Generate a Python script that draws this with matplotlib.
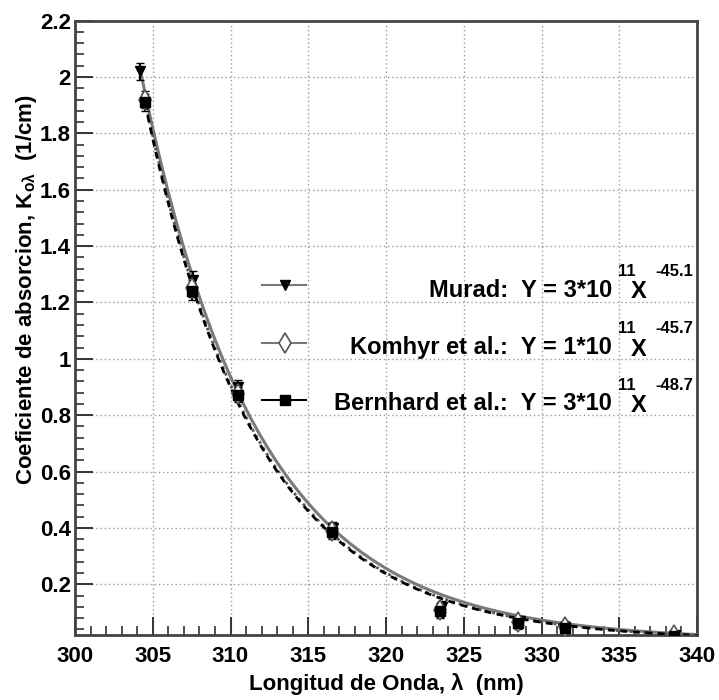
import numpy as np
import matplotlib
matplotlib.use("Agg")
import matplotlib.pyplot as plt
from matplotlib.lines import Line2D
from matplotlib.ticker import MultipleLocator, FixedLocator

W, H = 719, 700
plt.rcParams['font.family'] = ['Liberation Sans', 'DejaVu Sans']
plt.rcParams['font.weight'] = 'bold'
plt.rcParams['mathtext.fontset'] = 'custom'
plt.rcParams['mathtext.rm'] = 'Liberation Sans:bold'
plt.rcParams['mathtext.it'] = 'Liberation Sans:bold'
plt.rcParams['mathtext.bf'] = 'Liberation Sans:bold'

# ---------------- data ----------------
murad_x = [304.2, 307.6, 310.5, 316.6, 323.6, 328.6, 331.5, 338.6]
murad_y = [2.02, 1.28, 0.90, 0.40, 0.12, 0.07, 0.05, 0.02]
murad_err = [0.03, 0.03, 0.025, 0.02, 0.02, 0.015, 0.012, 0.008]

komhyr_x = [304.5, 307.5, 310.5, 316.5, 323.5, 328.5, 331.5, 338.5]
komhyr_y = [1.92, 1.25, 0.875, 0.39, 0.11, 0.066, 0.048, 0.019]
komhyr_err = [0.03, 0.03, 0.025, 0.025, 0.025, 0.02, 0.02, 0.008]

bernhard_x = [304.5, 307.5, 310.5, 316.5, 323.5, 328.5, 331.5, 338.5]
bernhard_y = [1.91, 1.24, 0.87, 0.385, 0.105, 0.062, 0.046, 0.018]
bernhard_err = [0.03, 0.03, 0.025, 0.025, 0.025, 0.02, 0.02, 0.008]

series_names = ['Murad:', 'Komhyr et al.:', 'Bernhard et al.:']
fit_amp = ['3', '1', '3']
fit_pow10 = ['11', '11', '11']
fit_exp = ['-45.1', '-45.7', '-48.7']

x_ticks = [300, 305, 310, 315, 320, 325, 330, 335, 340]
y_ticks = [0.2, 0.4, 0.6, 0.8, 1.0, 1.2, 1.4, 1.6, 1.8, 2.0, 2.2]
y_tick_labels = ['0.2', '0.4', '0.6', '0.8', '1', '1.2', '1.4', '1.6', '1.8', '2', '2.2']

x_title = 'Longitud de Onda, λ  (nm)'
y_title = r'Coeficiente de absorcion, K$_{\mathrm{o\lambda}}$  (1/cm)'

# ---------------- figure ----------------
fig = plt.figure(figsize=(W / 100, H / 100), dpi=100)
L, R, T, B = 75, 697, 20.6, 635
ax = fig.add_axes([L / W, 1 - B / H, (R - L) / W, (B - T) / H])
ax.set_xlim(300, 340)
ax.set_ylim(0.02, 2.2)


def fp(x, y):
    return x / W, 1 - y / H


series = [
    (murad_x, murad_y, murad_err, dict(marker='v', mfc='black', mec='black', ms=7),
     dict(color='#7a7a7a', lw=2.2, ls='-')),
    (komhyr_x, komhyr_y, komhyr_err, dict(marker='d', mfc='white', mec='#555555', ms=10, mew=1.2),
     dict(color='#555555', lw=2.0, ls=(0, (1, 1.5)))),
    (bernhard_x, bernhard_y, bernhard_err, dict(marker='s', mfc='black', mec='black', ms=7),
     dict(color='black', lw=2.0, ls=(0, (2.5, 2)))),
]

# fitted power-law curves (fit of each series' points)
for xs, ys, es, mk, ln in series:
    xa, ya = np.array(xs), np.array(ys)
    b, a = np.polyfit(np.log(xa), np.log(ya), 1, w=ya)
    xc = np.linspace(xa.min(), 340, 400)
    ax.plot(xc, np.exp(a) * xc ** b, zorder=3, **ln)

for xs, ys, es, mk, ln in series:
    ax.errorbar(xs, ys, yerr=es, fmt='none', ecolor='black', elinewidth=1.5, capsize=3, zorder=4)
    ax.plot(xs, ys, ls='none', zorder=5, **mk)

# axes styling
ax.xaxis.set_major_locator(FixedLocator(x_ticks))
ax.xaxis.set_minor_locator(MultipleLocator(1))
ax.yaxis.set_major_locator(FixedLocator(y_ticks))
ax.set_yticklabels(y_tick_labels)
ax.yaxis.set_minor_locator(MultipleLocator(0.04))
ax.tick_params(which='major', direction='in', length=13, width=1.4, color='#333333',
               labelsize=16, top=False, right=False)
ax.tick_params(which='minor', direction='in', length=6.5, width=1.2, color='#333333',
               top=False, right=False)
ax.tick_params(axis='x', which='major', pad=8)
ax.tick_params(axis='y', which='major', pad=3)
ax.grid(True, which='major', color='#9a9a9a', ls=(0, (1, 2)), lw=1.0)
for s in ax.spines.values():
    s.set_linewidth(2.0)
    s.set_color('#444444')

fig.text(*fp(386, 684), x_title, ha='center', va='center', fontsize=16, fontweight='bold')
fig.text(*fp(27, 290), y_title, ha='center', va='center', rotation=90, fontsize=16, fontweight='bold')

# legend (drawn in figure pixel space)
row_y = [290, 347, 404]
for i, (xs, ys, es, mk, ln) in enumerate(series):
    yl = row_y[i] - 5 if i == 0 else row_y[i] - 4
    lc = '#777777' if i < 2 else 'black'
    fig.add_artist(Line2D([262 / W, 306 / W], [1 - yl / H] * 2, color=lc, lw=1.5,
                          transform=fig.transFigure))
    fig.add_artist(Line2D([285 / W], [1 - yl / H], ls='none', transform=fig.transFigure, **mk))
    y0 = row_y[i]
    fig.text(*fp(612, y0), f'{series_names[i]}  Y = {fit_amp[i]}*10', ha='right', va='center',
             fontsize=17, fontweight='bold')
    fig.text(*fp(627, y0 - 19), fit_pow10[i], ha='center', va='center', fontsize=12, fontweight='bold')
    fig.text(*fp(639, y0 + 2), 'X', ha='center', va='center', fontsize=17, fontweight='bold')
    fig.text(*fp(655, y0 - 19), fit_exp[i], ha='left', va='center', fontsize=12, fontweight='bold')

fig.savefig('out.png', dpi=100)
